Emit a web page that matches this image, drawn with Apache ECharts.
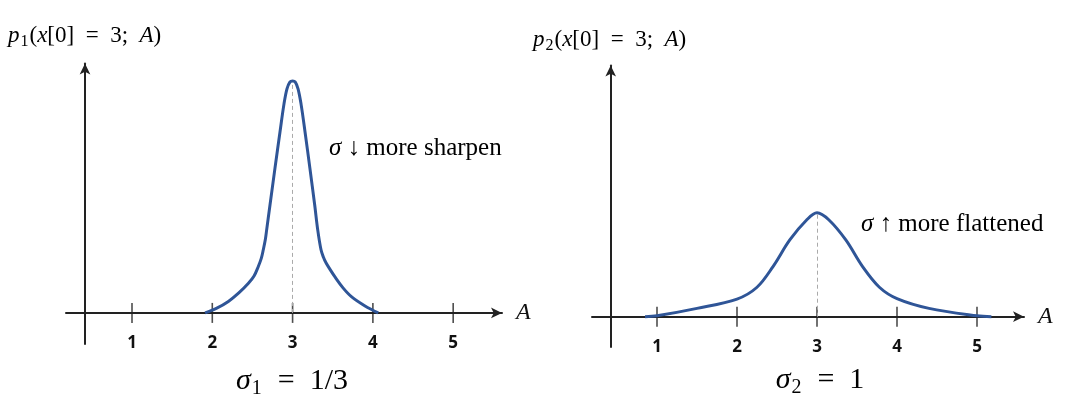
<!DOCTYPE html>
<html>
<head>
<meta charset="utf-8">
<script src="https://cdn.jsdelivr.net/npm/echarts@6/dist/echarts.min.js"></script>
<style>html,body{margin:0;padding:0;background:#fff}#c{width:1080px;height:411px}</style>
</head>
<body>
<div id="c"></div>
<script>
// ---- data ----
const xTicks = [1, 2, 3, 4, 5];
const peakX = 3;
const leftX = [1.91, 2.05, 2.2, 2.33, 2.45, 2.52, 2.573, 2.61, 2.635, 2.66, 2.677, 2.719, 2.781, 2.843, 2.893, 2.93, 2.968, 3.0,
               3.032, 3.068, 3.105, 3.155, 3.215, 3.275, 3.313, 3.354, 3.383, 3.416, 3.466, 3.528, 3.628, 3.736, 3.902, 4.067];
const leftY = [0, 0.0194, 0.0496, 0.0862, 0.128, 0.159, 0.2, 0.235, 0.272, 0.315, 0.358, 0.466, 0.625, 0.78, 0.901, 0.966, 0.996, 1.0,
               0.996, 0.966, 0.901, 0.78, 0.625, 0.466, 0.358, 0.272, 0.241, 0.216, 0.1875, 0.155, 0.108, 0.069, 0.030, 0];
const rightX = [0.85, 1.0, 1.5, 2.0, 2.25, 2.45, 2.66, 2.87, 3.0, 3.15, 3.36, 3.57, 3.78, 4.0, 4.4, 5.0, 5.18];
const rightY = [0, 0.004, 0.036, 0.076, 0.127, 0.216, 0.331, 0.417, 0.448, 0.417, 0.331, 0.216, 0.127, 0.078, 0.036, 0.004, 0];
const leftPeak = 1.0;
const rightPeak = 0.448;

const zip = (xs, ys) => xs.map((x, i) => [x, ys[i]]);
const AX = '#222222';
const BLUE = '#2F5597';
const SERIF = '"Liberation Serif", "DejaVu Serif", serif';

function xAxisCfg(idx, min, max, margin) {
  return {
    gridIndex: idx, type: 'value', min: min, max: max,
    name: 'A', nameLocation: 'end', nameGap: 14,
    nameTextStyle: { fontFamily: SERIF, fontStyle: 'italic', fontSize: 24, color: '#111' },
    axisLine: { show: true, onZero: true, symbol: ['none', 'arrow'], symbolSize: [8, 11], lineStyle: { color: AX, width: 2 } },
    axisTick: { show: false },
    splitLine: { show: false },
    axisLabel: { show: true, customValues: xTicks, margin: margin, fontFamily: '"Open Sans", sans-serif', fontWeight: 'bold', fontSize: 17, color: '#111' }
  };
}
function yAxisCfg(idx, min, max, off) {
  return {
    gridIndex: idx, type: 'value', min: min, max: max, offset: off,
    axisLine: { show: true, onZero: false, symbol: ['none', 'arrow'], symbolSize: [8, 11], lineStyle: { color: AX, width: 2 } },
    axisTick: { show: false }, axisLabel: { show: false }, splitLine: { show: false }
  };
}
function curve(idx, data, peak) {
  return {
    type: 'line', xAxisIndex: idx, yAxisIndex: idx, data: data, smooth: 0.35, showSymbol: false,
    lineStyle: { color: BLUE, width: 3 }, z: 5, silent: true,
    markLine: {
      silent: true, symbol: ['none', 'none'], label: { show: false },
      lineStyle: { color: '#aaaaaa', type: [4, 3], width: 1 },
      data: [[{ coord: [peakX, 0] }, { coord: [peakX, peak] }]]
    }
  };
}
function ticks(idx) {
  return {
    type: 'scatter', xAxisIndex: idx, yAxisIndex: idx, data: xTicks.map(v => [v, 0]),
    symbol: 'rect', symbolSize: [1.6, 20], itemStyle: { color: AX }, z: 3, silent: true
  };
}
const rich = {
  i: { fontFamily: SERIF, fontStyle: 'italic', fontSize: 23, lineHeight: 28, color: '#111' },
  n: { fontFamily: SERIF, fontSize: 23, lineHeight: 28, color: '#111' },
  s: { fontFamily: SERIF, fontSize: 16, color: '#111', verticalAlign: 'bottom', lineHeight: 16, padding: [0, 1, 0, 1] },
  I: { fontFamily: SERIF, fontStyle: 'italic', fontSize: 30, lineHeight: 36, color: '#111' },
  N: { fontFamily: SERIF, fontSize: 30, lineHeight: 36, color: '#111' },
  S: { fontFamily: SERIF, fontSize: 20, color: '#111', verticalAlign: 'bottom', lineHeight: 20, padding: [0, 1, 0, 1] },
  a: { fontFamily: SERIF, fontStyle: 'italic', fontSize: 25, color: '#111' },
  b: { fontFamily: SERIF, fontSize: 25, color: '#111' }
};
function txt(x, y, text, align) {
  return { type: 'text', x: x, y: y, silent: true, style: { text: text, rich: rich, align: align, verticalAlign: 'middle' } };
}

const chart = echarts.init(document.getElementById('c'), null, { renderer: 'canvas' });
chart.setOption({
  animation: false,
  backgroundColor: '#ffffff',
  grid: [
    { left: 66, top: 63.5, width: 436, height: 280.5 },
    { left: 592, top: 65.5, width: 432, height: 281.5 }
  ],
  xAxis: [xAxisCfg(0, 0.178, 5.608, -9), xAxisCfg(1, 0.1875, 5.5875, -8)],
  yAxis: [yAxisCfg(0, -0.134, 1.075, -19), yAxisCfg(1, -0.1306, 1.083, -18.7)],
  series: [
    ticks(0), ticks(1),
    curve(0, zip(leftX, leftY), leftPeak),
    curve(1, zip(rightX, rightY), rightPeak)
  ],
  graphic: [
    txt(8, 36, '{i|p}{s|1}{n|(}{i|x}{n|[0]  =  3;  }{i|A}{n|)}', 'left'),
    txt(533, 40, '{i|p}{s|2}{n|(}{i|x}{n|[0]  =  3;  }{i|A}{n|)}', 'left'),
    txt(292, 381, '{I|σ}{S|1}{N|  =  1/3}', 'center'),
    txt(820, 380, '{I|σ}{S|2}{N|  =  1}', 'center'),
    txt(329, 148, '{a|σ}{b| ↓ more sharpen}', 'left'),
    txt(861, 224, '{a|σ}{b| ↑ more flattened}', 'left')
  ]
});
</script>
</body>
</html>
